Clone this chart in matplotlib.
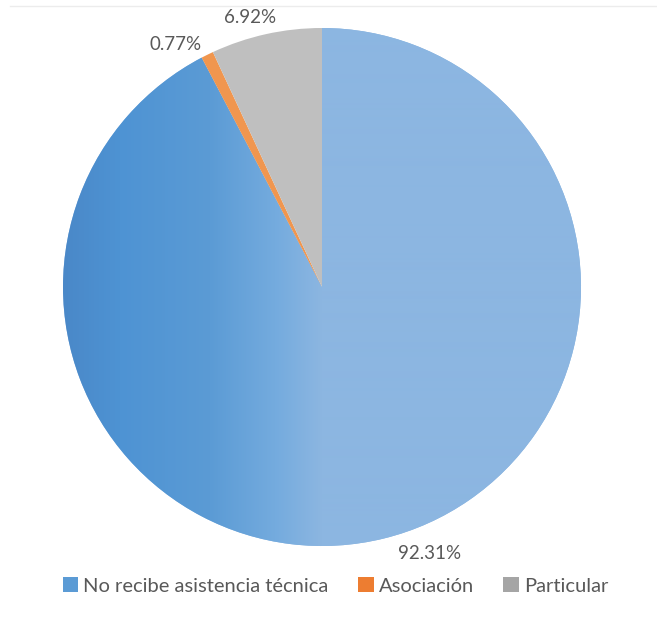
import numpy as np
import matplotlib
matplotlib.use("Agg")
import matplotlib.pyplot as plt
from matplotlib.lines import Line2D

# ---- data ----
categories = ["No recibe asistencia técnica", "Asociación", "Particular"]
values = [92.31, 0.77, 6.92]
value_labels = ["92.31%", "0.77%", "6.92%"]

colors = ["#8cb6e1", "#f0964f", "#bfbfbf"]

W, H = 657, 619
fig = plt.figure(figsize=(W / 100, H / 100), dpi=100)
fig.patch.set_facecolor("white")
ax = fig.add_axes([0, 0, 1, 1])

cx, cy, R = 322, H - 287, 259
wedges, _ = ax.pie(values, colors=colors, startangle=90, counterclock=False,
                   center=(cx, cy), radius=R,
                   wedgeprops=dict(linewidth=0, antialiased=True))
ax.set_xlim(0, W)
ax.set_ylim(0, H)
ax.set_aspect("equal")
ax.axis("off")

# gradient fill on the large blue slice
xs = np.arange(W) + 0.5
stops_x = [63, 120, 210, 275, 322, W]
stops_c = np.array([[74, 136, 200], [78, 147, 211], [91, 155, 213],
                    [116, 171, 222], [140, 182, 225], [140, 182, 225]]) / 255.0
grad = np.stack([np.interp(xs, stops_x, stops_c[:, k]) for k in range(3)], axis=-1)
img = ax.imshow(grad[np.newaxis, :, :], extent=(0, W, 0, H), aspect="auto",
                interpolation="bilinear", zorder=wedges[0].get_zorder() + 0.1)
img.set_clip_path(wedges[0])
for w in wedges[1:]:
    w.set_zorder(wedges[0].get_zorder() + 0.2)

# data labels
font = "Lato"
tc = "#595959"
label_r = [274, 271, 276]
label_dx = [42, -26, -12]
for w, lab, r, dx in zip(wedges, value_labels, label_r, label_dx):
    ang = np.deg2rad((w.theta1 + w.theta2) / 2)
    ax.text(cx + r * np.cos(ang) + dx, cy + r * np.sin(ang), lab,
            ha="center", va="center", fontsize=13.5, color=tc, family=font)

# legend
leg = ax.legend(wedges, categories, loc="center",
                bbox_to_anchor=(335.5 / W, (H - 586) / H),
                ncol=3, frameon=False, handlelength=0.78, handleheight=0.78,
                handletextpad=0.25, columnspacing=1.45, borderpad=0,
                prop=dict(family=font, size=14.5))
for t in leg.get_texts():
    t.set_color(tc)
for h, c in zip(leg.legend_handles, ["#5b9bd5", "#ed7d31", "#a5a5a5"]):
    h.set_facecolor(c)

# faint top border line
fig.add_artist(Line2D([10 / W, 1], [1 - 6 / H, 1 - 6 / H], transform=fig.transFigure,
                      color="#ececec", linewidth=1))

fig.savefig("out.png", dpi=100, facecolor="white")
